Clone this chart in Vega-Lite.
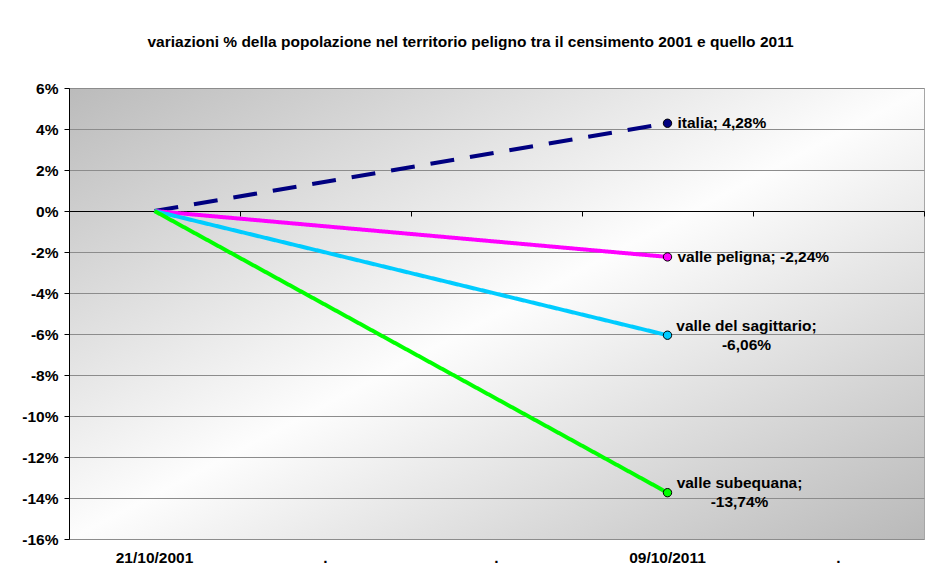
{
  "$schema": "https://vega.github.io/schema/vega-lite/v6.json",
  "width": 855,
  "height": 451,
  "autosize": {"type": "none"},
  "padding": {"left": 69, "top": 88, "right": 2, "bottom": 39},
  "background": "white",
  "title": {
    "text": "variazioni % della popolazione nel territorio peligno tra il censimento 2001 e quello 2011",
    "font": "Liberation Sans",
    "fontSize": 15.5,
    "fontWeight": "bold",
    "color": "black",
    "anchor": "middle",
    "offset": 31,
    "dx": -26
  },
  "config": {
    "font": "Liberation Sans",
    "view": {
      "stroke": "#a6a6a6",
      "strokeWidth": 1,
      "fill": {
        "gradient": "linear",
        "x1": 0, "y1": 0, "x2": 1, "y2": 1,
        "stops": [
          {"offset": 0, "color": "#bbbbbb"},
          {"offset": 0.5, "color": "#fdfdfd"},
          {"offset": 1, "color": "#b9b9b9"}
        ]
      }
    }
  },
  "data": {
    "values": [
      {"serie": "italia", "data": "21/10/2001", "valore": 0, "etichetta": ""},
      {"serie": "italia", "data": "09/10/2011", "valore": 4.28, "etichetta": "italia; 4,28%"},
      {"serie": "valle peligna", "data": "21/10/2001", "valore": 0, "etichetta": ""},
      {"serie": "valle peligna", "data": "09/10/2011", "valore": -2.24, "etichetta": "valle peligna; -2,24%"},
      {"serie": "valle del sagittario", "data": "21/10/2001", "valore": 0, "etichetta": ""},
      {"serie": "valle del sagittario", "data": "09/10/2011", "valore": -6.06, "etichetta": "valle del sagittario;\n-6,06%"},
      {"serie": "valle subequana", "data": "21/10/2001", "valore": 0, "etichetta": ""},
      {"serie": "valle subequana", "data": "09/10/2011", "valore": -13.74, "etichetta": "valle subequana;\n-13,74%"}
    ]
  },
  "encoding": {
    "y": {
      "field": "valore",
      "type": "quantitative",
      "scale": {"domain": [-16, 6], "nice": false, "zero": false},
      "axis": {
        "title": null,
        "values": [-16, -14, -12, -10, -8, -6, -4, -2, 0, 2, 4, 6],
        "labelExpr": "datum.value + '%'",
        "labelFont": "Liberation Sans",
        "labelFontSize": 15.5,
        "labelFontWeight": "bold",
        "labelColor": "black",
        "labelPadding": 6,
        "domain": true,
        "domainColor": "black",
        "domainWidth": 1,
        "ticks": true,
        "tickColor": "black",
        "tickSize": 5,
        "grid": true,
        "gridColor": "#8c8c8c",
        "gridWidth": 1
      }
    },
    "color": {
      "field": "serie",
      "type": "nominal",
      "scale": {
        "domain": ["italia", "valle peligna", "valle del sagittario", "valle subequana"],
        "range": ["#000080", "#ff00ff", "#00ccff", "#00ff00"]
      },
      "legend": null
    }
  },
  "layer": [
    {
      "mark": {"type": "line", "strokeWidth": 4, "strokeCap": "butt"},
      "encoding": {
        "x": {
          "field": "data",
          "type": "nominal",
          "sort": null,
          "scale": {"type": "band", "domain": ["21/10/2001", "p1", "p2", "09/10/2011", "p3"], "paddingInner": 0, "paddingOuter": 0},
          "axis": {
            "orient": "bottom",
            "title": null,
            "labelAngle": 0,
            "labelExpr": "(datum.value == 'p1' || datum.value == 'p2' || datum.value == 'p3') ? '.' : datum.value",
            "labelFont": "Liberation Sans",
            "labelFontSize": 15.5,
            "labelFontWeight": "bold",
            "labelColor": "black",
            "labelPadding": 11,
            "domain": false,
            "ticks": false,
            "tickSize": 0,
            "grid": false
          }
        },
        "strokeDash": {
          "field": "serie",
          "type": "nominal",
          "scale": {
            "domain": ["italia", "valle peligna", "valle del sagittario", "valle subequana"],
            "range": [[24, 16], [1, 0], [1, 0], [1, 0]]
          },
          "legend": null
        }
      }
    },
    {
      "transform": [{"filter": "datum.data == '09/10/2011'"}],
      "mark": {"type": "point", "shape": "circle", "filled": true, "size": 70, "stroke": "black", "strokeWidth": 1, "opacity": 1},
      "encoding": {
        "x": {
          "field": "data",
          "type": "nominal",
          "sort": null,
          "scale": {"type": "band", "domain": ["21/10/2001", "p1", "p2", "09/10/2011", "p3"], "paddingInner": 0, "paddingOuter": 0},
          "axis": {
            "orient": "bottom",
            "title": null,
            "offset": -328,
            "labels": false,
            "domain": true,
            "domainColor": "black",
            "domainWidth": 1,
            "ticks": true,
            "tickColor": "black",
            "tickSize": 5,
            "tickBand": "extent",
            "grid": false
          }
        }
      }
    },
    {
      "transform": [{"filter": "datum.serie == 'italia' || datum.serie == 'valle peligna'"}, {"filter": "datum.data == '09/10/2011'"}],
      "mark": {"type": "text", "align": "left", "baseline": "middle", "dx": 10, "fontSize": 15.5, "fontWeight": "bold", "font": "Liberation Sans"},
      "encoding": {
        "x": {"field": "data", "type": "nominal", "sort": null, "scale": {"type": "band", "domain": ["21/10/2001", "p1", "p2", "09/10/2011", "p3"], "paddingInner": 0, "paddingOuter": 0}, "axis": null},
        "text": {"field": "etichetta"},
        "color": {"value": "black"}
      }
    },
    {
      "transform": [{"filter": "datum.serie == 'valle del sagittario'"}, {"filter": "datum.data == '09/10/2011'"}],
      "mark": {"type": "text", "align": "center", "baseline": "middle", "dx": 79, "dy": -9.5, "lineBreak": "\n", "lineHeight": 19, "fontSize": 15.5, "fontWeight": "bold", "font": "Liberation Sans"},
      "encoding": {
        "x": {"field": "data", "type": "nominal", "sort": null, "scale": {"type": "band", "domain": ["21/10/2001", "p1", "p2", "09/10/2011", "p3"], "paddingInner": 0, "paddingOuter": 0}, "axis": null},
        "text": {"field": "etichetta"},
        "color": {"value": "black"}
      }
    },
    {
      "transform": [{"filter": "datum.serie == 'valle subequana'"}, {"filter": "datum.data == '09/10/2011'"}],
      "mark": {"type": "text", "align": "center", "baseline": "middle", "dx": 72, "dy": -9.5, "lineBreak": "\n", "lineHeight": 19, "fontSize": 15.5, "fontWeight": "bold", "font": "Liberation Sans"},
      "encoding": {
        "x": {"field": "data", "type": "nominal", "sort": null, "scale": {"type": "band", "domain": ["21/10/2001", "p1", "p2", "09/10/2011", "p3"], "paddingInner": 0, "paddingOuter": 0}, "axis": null},
        "text": {"field": "etichetta"},
        "color": {"value": "black"}
      }
    }
  ],
  "resolve": {"axis": {"x": "independent"}}
}
